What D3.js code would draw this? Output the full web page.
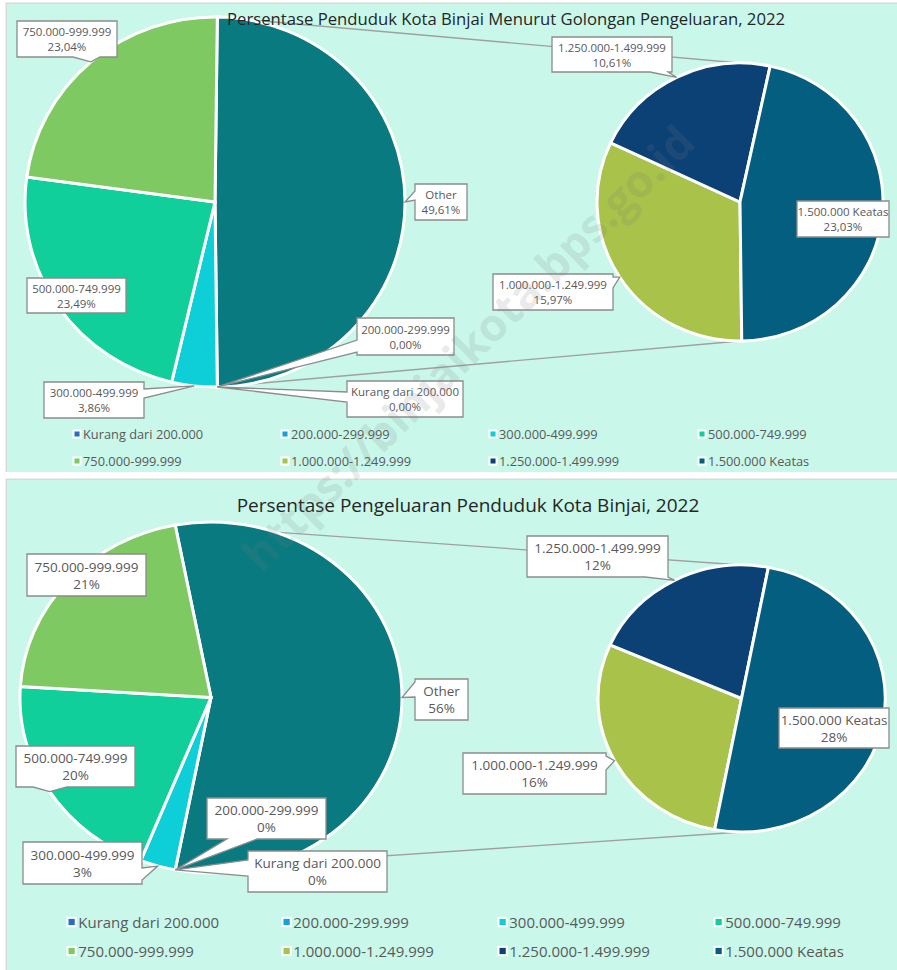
<!DOCTYPE html>
<html>
<head>
<meta charset="utf-8">
<script src="https://cdn.jsdelivr.net/npm/d3@7"></script>
<style>
  body { margin: 0; background: #fff; font-family: "Open Sans", sans-serif; }
</style>
</head>
<body>
<svg id="chart" width="897" height="970"></svg>
<script>
// --- data ---
const categories = [
  'Kurang dari 200.000', '200.000-299.999', '300.000-499.999', '500.000-749.999',
  '750.000-999.999', '1.000.000-1.249.999', '1.250.000-1.499.999', '1.500.000 Keatas'
];
const pendudukPct = [0, 0, 3.86, 23.49, 23.04, 15.97, 10.61, 23.03];
const pengeluaranPct = [0, 0, 3, 20, 21, 16, 12, 28];
const sliceColors = ['#2a6dc4', '#14a1dc', '#0ecfd8', '#11cf9b', '#7ec962', '#a8c24a', '#0b4175', '#045e80'];
const otherColor = '#097b80';
const otherLabel = 'Other';
const secondaryCount = 3; // last 3 categories go to the second pie
const titles = [
  'Persentase Penduduk Kota Binjai Menurut Golongan Pengeluaran, 2022',
  'Persentase Pengeluaran Penduduk Kota Binjai, 2022'
];
const watermark = 'https://binjaikota.bps.go.id';

// --- layout ---
const charts = [
  {
    title: titles[0], values: pendudukPct,
    fmt: v => d3.format('.2f')(v).replace('.', ',') + '%',
    panel: [7, 4, 890, 468],
    titleX: 506, titleY: 25, titleSize: 16.7,
    main: { cx: 215, cy: 202, rx: 190, ry: 185 },
    sec: { cx: 740, cy: 202, rx: 143, ry: 139 },
    labelSize: 11.5, lineGap: 7.5,
    labels: {
      'Kurang dari 200.000': { box: [347, 381, 116, 36], side: 'left', base: [392, 402] },
      '200.000-299.999': { box: [357, 318, 97, 37], side: 'left', base: [340, 352] },
      '300.000-499.999': { box: [44, 382, 100, 36], side: 'right', base: [389, 398] },
      '500.000-749.999': { box: [27, 278, 99, 35] },
      '750.000-999.999': { box: [17, 21, 100, 36], side: 'bottom', base: [73, 100] },
      '1.000.000-1.249.999': { box: [493, 274, 120, 36], side: 'right', base: [277, 288] },
      '1.250.000-1.499.999': { box: [552, 37, 120, 35], side: 'bottom', base: [650, 668] },
      '1.500.000 Keatas': { box: [797, 201, 92, 36] },
      'Other': { box: [415, 184, 52, 36], side: 'left', base: [191, 200] }
    },
    legend: { rows: [434, 461], cols: [72, 280, 488, 697], size: 12.8 }
  },
  {
    title: titles[1], values: pengeluaranPct,
    fmt: v => d3.format('.0f')(v) + '%',
    panel: [7, 480, 890, 490],
    titleX: 468, titleY: 512, titleSize: 19,
    main: { cx: 211, cy: 697.5, rx: 191, ry: 175.5 },
    sec: { cx: 741.5, cy: 698.5, rx: 143.5, ry: 133.5 },
    labelSize: 13.5, lineGap: 8.5,
    labels: {
      'Kurang dari 200.000': { box: [248, 851, 139, 41], side: 'left', base: [860, 876] },
      '200.000-299.999': { box: [207, 798, 119, 41], side: 'bottom', base: [227, 257] },
      '300.000-499.999': { box: [23, 842, 119, 42], side: 'right', base: [868, 880] },
      '500.000-749.999': { box: [16, 746, 119, 41], side: 'bottom', base: [33, 67] },
      '750.000-999.999': { box: [27, 554, 119, 42] },
      '1.000.000-1.249.999': { box: [463, 753, 143, 41], side: 'right', base: [756, 770] },
      '1.250.000-1.499.999': { box: [527, 536, 141, 41], side: 'bottom', base: [645, 668] },
      '1.500.000 Keatas': { box: [779, 708, 110, 40] },
      'Other': { box: [415, 679, 53, 41], side: 'left', base: [682, 697] }
    },
    legend: { rows: [922, 951], cols: [66, 281, 497, 713], size: 15 }
  }
];

const svg = d3.select('#chart');
const textColor = '#595959';

function ellipsePoint(geo, a) {
  return [geo.cx + geo.rx * Math.sin(a), geo.cy - geo.ry * Math.cos(a)];
}

function calloutPath(b, side, base, tip) {
  const [x, y, w, h] = b, x2 = x + w, y2 = y + h;
  const p = [[x, y]];
  if (side === 'top') p.push([base[0], y], tip, [base[1], y]);
  p.push([x2, y]);
  if (side === 'right') p.push([x2, base[0]], tip, [x2, base[1]]);
  p.push([x2, y2]);
  if (side === 'bottom') p.push([base[1], y2], tip, [base[0], y2]);
  p.push([x, y2]);
  if (side === 'left') p.push([x, base[1]], tip, [x, base[0]]);
  return 'M' + p.join('L') + 'Z';
}

function drawPie(g, data, geo, startAngle) {
  const pie = d3.pie().sort(null).value(d => d.value)
    .startAngle(startAngle).endAngle(startAngle + 2 * Math.PI);
  const arcs = pie(data);
  const arc = d3.arc().innerRadius(0).outerRadius(geo.rx);
  g.append('g')
    .attr('transform', `translate(${geo.cx},${geo.cy}) scale(1,${geo.ry / geo.rx})`)
    .selectAll('path')
    .data(arcs.filter(d => d.value > 0))
    .join('path')
    .attr('d', arc)
    .attr('fill', d => d.data.color)
    .attr('stroke', '#fff')
    .attr('stroke-width', 3)
    .attr('vector-effect', 'non-scaling-stroke');
  return arcs;
}

charts.forEach(c => {
  const g = svg.append('g');
  const [px, py, pw, ph] = c.panel;
  g.append('rect').attr('x', px - 1.5).attr('y', py - 1.5).attr('width', pw + 1.5).attr('height', ph + 1.5)
    .attr('fill', '#d9d9d9');
  g.append('rect').attr('x', px).attr('y', py).attr('width', pw).attr('height', ph)
    .attr('fill', '#c9f8eb');

  const items = categories.map((name, i) => ({ name, value: c.values[i], color: sliceColors[i] }));
  const secItems = items.slice(items.length - secondaryCount);
  const otherValue = d3.sum(secItems, d => d.value);
  const mainItems = [{ name: otherLabel, value: otherValue, color: otherColor }]
    .concat(items.slice(0, items.length - secondaryCount));
  const otherFrac = otherValue / d3.sum(c.values);

  // connector lines between the two pies (behind)
  const mainStart = Math.PI / 2 - otherFrac * Math.PI;
  const mainEnd = Math.PI / 2 + otherFrac * Math.PI;
  const lines = [
    [ellipsePoint(c.main, mainStart), [c.sec.cx, c.sec.cy - c.sec.ry]],
    [ellipsePoint(c.main, mainEnd), [c.sec.cx, c.sec.cy + c.sec.ry]]
  ];
  g.selectAll('line.conn').data(lines).join('line').attr('class', 'conn')
    .attr('x1', d => d[0][0]).attr('y1', d => d[0][1])
    .attr('x2', d => d[1][0]).attr('y2', d => d[1][1])
    .attr('stroke', '#a0a0a0').attr('stroke-width', 1.3);

  const mainArcs = drawPie(g, mainItems, c.main, mainStart);
  const secArcs = drawPie(g, secItems, c.sec, mainEnd);

  // data labels
  const labelled = mainArcs.map(d => ({ d, geo: c.main })).concat(secArcs.map(d => ({ d, geo: c.sec })));
  labelled.forEach(({ d, geo }) => {
    const lay = c.labels[d.data.name];
    if (!lay) return;
    const tip = ellipsePoint(geo, (d.startAngle + d.endAngle) / 2);
    g.append('path')
      .attr('d', calloutPath(lay.box, lay.side, lay.base, tip))
      .attr('fill', '#fff').attr('stroke', '#8c8c8c').attr('stroke-width', 1.3);
    const [bx, by, bw, bh] = lay.box;
    const t = g.append('text').attr('text-anchor', 'middle')
      .attr('font-size', c.labelSize).attr('fill', textColor);
    t.append('tspan').attr('x', bx + bw / 2).attr('y', by + bh / 2 - c.lineGap)
      .attr('dominant-baseline', 'central').text(d.data.name);
    t.append('tspan').attr('x', bx + bw / 2).attr('y', by + bh / 2 + c.lineGap)
      .attr('dominant-baseline', 'central').text(c.fmt(d.data.value));
  });

  // title (drawn over the pie, as in the original)
  g.append('text').attr('x', c.titleX).attr('y', c.titleY)
    .attr('text-anchor', 'middle').attr('font-size', c.titleSize)
    .attr('fill', '#262626').text(c.title);

  // legend
  const lg = g.append('g').selectAll('g').data(items).join('g')
    .attr('transform', (d, i) => `translate(${c.legend.cols[i % 4]},${c.legend.rows[Math.floor(i / 4)]})`);
  const m = c.legend.size * 0.55;
  lg.append('rect').attr('x', 1.5).attr('y', -m / 2).attr('width', m).attr('height', m)
    .attr('fill', d => d.color).attr('stroke', '#fff').attr('stroke-width', 2);
  lg.append('text').attr('x', m + 4).attr('dominant-baseline', 'central')
    .attr('font-size', c.legend.size).attr('fill', textColor).text(d => d.name);
});

// watermark
svg.append('text')
  .attr('transform', 'translate(467,347) rotate(-44.5)')
  .attr('text-anchor', 'middle').attr('dominant-baseline', 'central')
  .attr('font-size', 45).attr('font-weight', 'bold')
  .attr('fill', '#7a7a7a').attr('fill-opacity', 0.18)
  .text(watermark);
</script>
</body>
</html>
